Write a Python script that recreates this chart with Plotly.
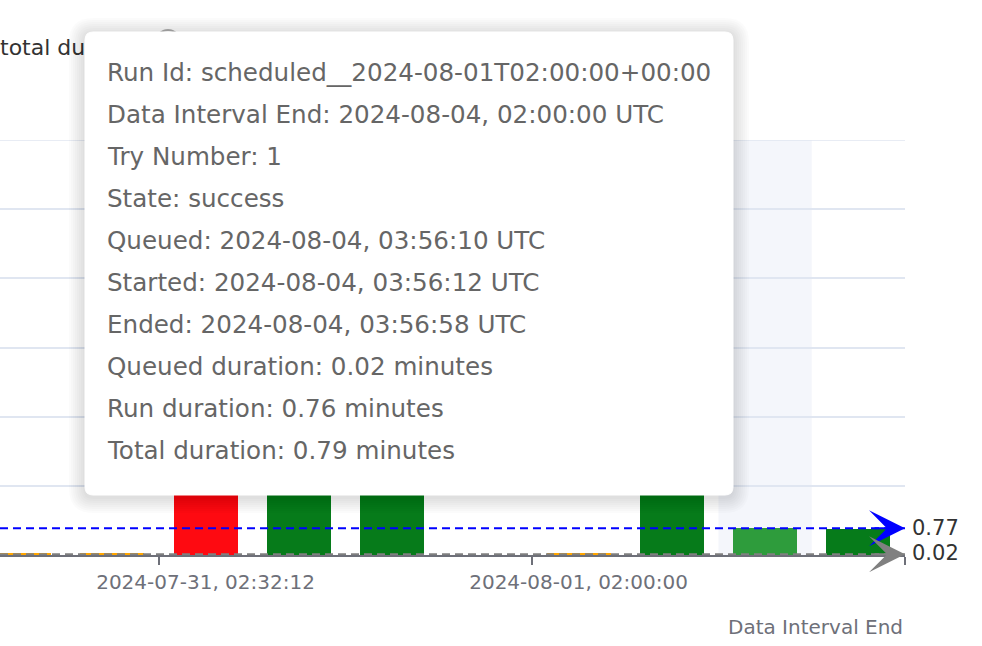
import plotly.graph_objects as go

# ---------------- data ----------------
interval_ends = [
    "2024-07-30, 02:00:00",
    "2024-07-30, 14:10:45",
    "2024-07-31, 02:32:12",
    "2024-07-31, 08:15:30",
    "2024-07-31, 14:00:00",
    "2024-07-31, 20:45:00",
    "2024-08-01, 02:00:00",
    "2024-08-03, 02:00:00",
    "2024-08-04, 02:00:00",
    "2024-08-05, 02:00:00",
]
states = ["upstream_failed", "upstream_failed", "failed", "success", "success",
          None, "upstream_failed", "success", "success", "success"]
queued_minutes = [0.02, 0.02, 0.03, 0.02, 0.02, None, 0.02, 0.02, 0.02, 0.02]
run_minutes = [0.03, 0.03, 3.4, 2.6, 4.2, None, 0.03, 3.1, 0.76, 0.72]

median_run = 0.77
median_queued = 0.02

hovered_end = "2024-08-04, 02:00:00"
hover_run_id = "scheduled__2024-08-01T02:00:00+00:00"
hover_try = 1
hover_queued_at = "2024-08-04, 03:56:10 UTC"
hover_started_at = "2024-08-04, 03:56:12 UTC"
hover_ended_at = "2024-08-04, 03:56:58 UTC"
hover_total = 0.79

label_start_index = 2
label_every = 4

# ---------------- styling ----------------
W, H = 982, 646
ML, MR, MT, MB = 0, 77, 140, 91
PW, PH = W - ML - MR, H - MT - MB
PB = MT + PH  # plot bottom pixel
X_RANGE = [-0.204, len(interval_ends) - 0.5]
Y_RANGE = [0, 12]

FONT = "DejaVu Sans"
state_colors = {"success": "#067b1a", "failed": "#fe0a11", "upstream_failed": "#ffa500", None: "rgba(0,0,0,0)"}
hover_color = "#2e9c3c"

hidx = interval_ends.index(hovered_end)
bar_colors = [state_colors[s] for s in states]
bar_colors[hidx] = hover_color


def fx(px):
    return (px - ML) / PW


def fy(py):
    return (PB - py) / PH


def rrect(x0, y0, x1, y1, r):
    pts = [
        f"M{fx(x0 + r)},{fy(y0)}", f"L{fx(x1 - r)},{fy(y0)}",
        f"Q{fx(x1)},{fy(y0)} {fx(x1)},{fy(y0 + r)}", f"L{fx(x1)},{fy(y1 - r)}",
        f"Q{fx(x1)},{fy(y1)} {fx(x1 - r)},{fy(y1)}", f"L{fx(x0 + r)},{fy(y1)}",
        f"Q{fx(x0)},{fy(y1)} {fx(x0)},{fy(y1 - r)}", f"L{fx(x0)},{fy(y0 + r)}",
        f"Q{fx(x0)},{fy(y0)} {fx(x0 + r)},{fy(y0)}", "Z",
    ]
    return " ".join(pts)


fig = go.Figure()
fig.add_trace(go.Bar(x=interval_ends, y=queued_minutes, marker=dict(color=bar_colors, line=dict(width=0)),
                     name="Queued duration", showlegend=False, hoverinfo="skip"))
fig.add_trace(go.Bar(x=interval_ends, y=run_minutes, marker=dict(color=bar_colors, line=dict(width=0)),
                     name="Run duration", showlegend=False, hoverinfo="skip"))

shapes = []
# hover shadow band
shapes.append(dict(type="rect", xref="x", yref="paper", x0=hidx - 0.5, x1=hidx + 0.5, y0=0, y1=1,
                   fillcolor="#f4f6fb", line=dict(width=0), layer="below"))
# top grid line (range end)
shapes.append(dict(type="line", xref="paper", yref="y", x0=0, x1=1, y0=Y_RANGE[1], y1=Y_RANGE[1],
                   line=dict(color="#e0e6f1", width=1.5), layer="below"))
# median lines
shapes.append(dict(type="line", xref="paper", yref="y", x0=0, x1=1, y0=median_run, y1=median_run,
                   line=dict(color="#0000ff", width=2, dash="8px,5px"), layer="above"))
shapes.append(dict(type="line", xref="paper", yref="y", x0=0, x1=1, y0=median_queued, y1=median_queued,
                   line=dict(color="#808080", width=2, dash="8px,5px"), layer="above"))
# header text (partly hidden under the tooltip)
shapes.append(dict(type="rect", xref="paper", yref="paper", x0=fx(-3), x1=fx(400), y0=fy(63), y1=fy(27),
                   fillcolor="rgba(0,0,0,0)", line=dict(width=0), layer="above",
                   label=dict(text="total duration", textposition="middle left", padding=0,
                              font=dict(family=FONT, size=22, color="#333333"))))
# small icon circle behind tooltip
shapes.append(dict(type="circle", xref="paper", yref="paper", x0=fx(156), x1=fx(180), y0=fy(54), y1=fy(30),
                   line=dict(color="#b0b0b0", width=2), layer="above"))
# tooltip shadow + box
TX0, TY0, TX1, TY1 = 85, 32, 733, 495
for k in range(8, 0, -1):
    d = 2 * k
    shapes.append(dict(type="path", xref="paper", yref="paper",
                       path=rrect(TX0 - d, TY0 - d + 2, TX1 + d, TY1 + d + 2, 8 + d),
                       fillcolor="rgba(0,0,0,0.016)", line=dict(width=0), layer="above"))
shapes.append(dict(type="path", xref="paper", yref="paper", path=rrect(TX0, TY0, TX1, TY1, 8),
                   fillcolor="#ffffff", line=dict(color="#ffffff", width=1), layer="above"))

annotations = []
tooltip_lines = [
    f"Run Id: {hover_run_id}",
    f"Data Interval End: {hovered_end} UTC",
    f"Try Number: {hover_try}",
    f"State: {states[hidx]}",
    f"Queued: {hover_queued_at}",
    f"Started: {hover_started_at}",
    f"Ended: {hover_ended_at}",
    f"Queued duration: {queued_minutes[hidx]:.2f} minutes",
    f"Run duration: {run_minutes[hidx]:.2f} minutes",
    f"Total duration: {hover_total:.2f} minutes",
]
for i, line in enumerate(tooltip_lines):
    annotations.append(dict(xref="paper", yref="paper", x=fx(105), y=fy(72 + 42.1 * i),
                            xanchor="left", yanchor="middle", text=line, showarrow=False,
                            font=dict(family=FONT, size=24.6, color="#666666")))

# arrows at ends of median lines
for val, col in [(median_run, "#0000ff"), (median_queued, "#808080")]:
    annotations.append(dict(xref="x", yref="y", x=X_RANGE[1], y=val, ax=-32, ay=0,
                            showarrow=True, arrowhead=3, arrowsize=3.0, arrowwidth=2,
                            arrowcolor=col, text=""))
annotations.append(dict(xref="paper", yref="y", x=1, y=median_run, xshift=5, yshift=0, xanchor="left",
                        yanchor="middle", text=f"{median_run:.2f}", showarrow=False,
                        font=dict(family=FONT, size=21, color="#333333")))
annotations.append(dict(xref="paper", yref="y", x=1, y=median_queued, xshift=5, yshift=1, xanchor="left",
                        yanchor="middle", text=f"{median_queued:.2f}", showarrow=False,
                        font=dict(family=FONT, size=21, color="#333333")))
# x-axis name
annotations.append(dict(xref="paper", yref="paper", x=1, y=fy(627), xanchor="right", yanchor="middle",
                        text="Data Interval End", showarrow=False,
                        font=dict(family=FONT, size=20, color="#6e7079")))

fig.update_layout(
    width=W, height=H, margin=dict(l=ML, r=MR, t=MT, b=MB, autoexpand=False),
    plot_bgcolor="#ffffff", paper_bgcolor="#ffffff",
    barmode="stack", bargap=0.313,
    shapes=shapes, annotations=annotations,
    xaxis=dict(type="category", range=X_RANGE, tickmode="linear", tick0=label_start_index,
               dtick=label_every, tickson="boundaries", ticks="outside", ticklen=8, tickwidth=2,
               tickangle=0, automargin=False, ticklabelstandoff=8,
               tickcolor="#6e7079", showline=True, linecolor="#6e7079", linewidth=2,
               showgrid=False, tickfont=dict(family=FONT, size=20, color="#6e7079")),
    yaxis=dict(range=Y_RANGE, dtick=2, showgrid=True, gridcolor="#e0e6f1", gridwidth=1.5,
               zeroline=False, showticklabels=False, showline=False, automargin=False),
    hovermode=False,
)

fig.write_html("out.html", config={"displayModeBar": False},
               post_script="document.body.style.margin='0';")
